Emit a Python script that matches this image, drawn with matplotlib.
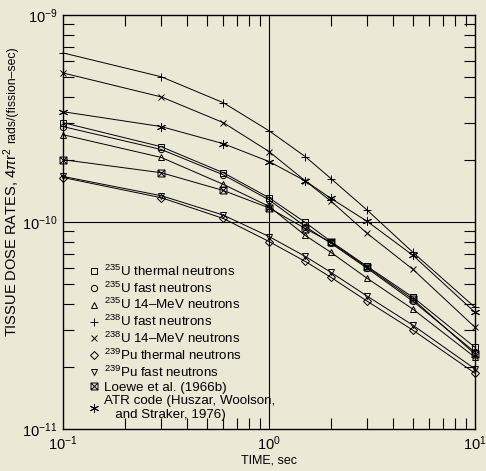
import numpy as np
import matplotlib
matplotlib.use("Agg")
import matplotlib.pyplot as plt
from matplotlib.path import Path

plt.rcParams['font.family'] = ['Liberation Sans', 'DejaVu Sans']
plt.rcParams['mathtext.fontset'] = 'custom'
plt.rcParams['mathtext.rm'] = 'Liberation Sans'
plt.rcParams['mathtext.it'] = 'Liberation Sans:italic'

# time after fission, sec
times = [0.1, 0.3, 0.6, 1.0, 1.5, 2.0, 3.0, 5.0, 10.0]

# tissue dose rates, units of 1e-10 rads/(fission-sec)
u235_thermal = [3.02, 2.31, 1.73, 1.31, 0.995, 0.805, 0.610, 0.433, 0.248]
u235_fast = [2.89, 2.24, 1.69, 1.28, 0.951, 0.788, 0.597, 0.414, 0.235]
u235_14mev = [2.64, 2.05, 1.52, 1.19, 0.861, 0.713, 0.534, 0.379, 0.222]
u238_fast = [6.56, 5.03, 3.77, 2.76, 2.07, 1.62, 1.14, 0.713, 0.387]
u238_14mev = [5.25, 4.02, 3.02, 2.19, 1.58, 1.26, 0.880, 0.590, 0.310]
pu239_thermal = [1.64, 1.31, 1.04, 0.805, 0.645, 0.540, 0.414, 0.300, 0.186]
pu239_fast = [1.66, 1.34, 1.08, 0.851, 0.682, 0.571, 0.438, 0.317, 0.195]
loewe = [2.00, 1.73, 1.42, 1.17, 0.930, 0.797, 0.604, 0.423, 0.230]
atr = [3.41, 2.89, 2.39, 1.96, 1.58, 1.30, 1.006, 0.690, 0.366]

labels = [
    r'$^{235}$U thermal neutrons',
    r'$^{235}$U fast neutrons',
    r'$^{235}$U 14–MeV neutrons',
    r'$^{238}$U fast neutrons',
    r'$^{238}$U 14–MeV neutrons',
    r'$^{239}$Pu thermal neutrons',
    r'$^{239}$Pu fast neutrons',
    'Loewe et al. (1966b)',
    'ATR code (Huszar, Woolson,\n   and Straker, 1976)',
]

# square with an X inside
boxx = Path([(-1, -1), (1, -1), (1, 1), (-1, 1), (-1, -1), (-1, -1), (1, 1), (-1, 1), (1, -1)],
            [1, 2, 2, 2, 2, 1, 2, 1, 2])
markers = ['s', 'o', '^', '+', 'x', 'D', 'v', boxx, (6, 2, 0)]
sizes = [4.5, 4.5, 4.5, 6, 5, 4, 5, 5, 6.5]
series = [u235_thermal, u235_fast, u235_14mev, u238_fast, u238_14mev,
          pu239_thermal, pu239_fast, loewe, atr]

bg = '#ECE8D6'
fig = plt.figure(figsize=(4.86, 4.71), dpi=100, facecolor=bg)
ax = fig.add_axes([63 / 486, 42 / 471, 412 / 486, 414 / 471], facecolor=bg)

for vals, m, s, lab in zip(series, markers, sizes, labels):
    y = np.array(vals) * 1e-10
    ax.plot(times, y, color='black', lw=0.7, marker=m, ms=s, mfc='none',
            mec='black', mew=0.7, label=lab, clip_on=False)

ax.axvline(1.0, color='black', lw=0.8)
ax.axhline(1e-10, color='black', lw=0.8)

ax.set_xscale('log')
ax.set_yscale('log')
ax.set_xlim(0.1, 10)
ax.set_ylim(1e-11, 1e-9)

ax.tick_params(which='both', direction='in', top=True, right=True, width=0.8)
ax.tick_params(which='major', length=0, labelsize=10.5, pad=4)
ax.tick_params(which='minor', length=8)
for sp in ax.spines.values():
    sp.set_linewidth(1.0)

ax.set_xlabel('TIME, sec', fontsize=9, labelpad=1)

# y label: main part plus smaller units, stacked bottom to top
t1 = fig.text(12 / 486, 1 - 337 / 471, r'TISSUE DOSE RATES, 4$\pi$r$^2$',
              rotation=90, ha='center', va='bottom', fontsize=10.5)
fig.canvas.draw()
bb = t1.get_window_extent()
fig.text(12 / 486, (bb.y1 + 5) / fig.bbox.height, 'rads/(fission–sec)',
         rotation=90, ha='center', va='bottom', fontsize=8.8)

leg = ax.legend(loc='lower left', bbox_to_anchor=(0.045, 0.0),
                frameon=False, fontsize=9.6, handlelength=0.6, handletextpad=0.5,
                labelspacing=0.12, borderaxespad=0.2)
for h in leg.legend_handles:
    h.set_linestyle('none')

plt.savefig('out.png', dpi=100, facecolor=bg)
